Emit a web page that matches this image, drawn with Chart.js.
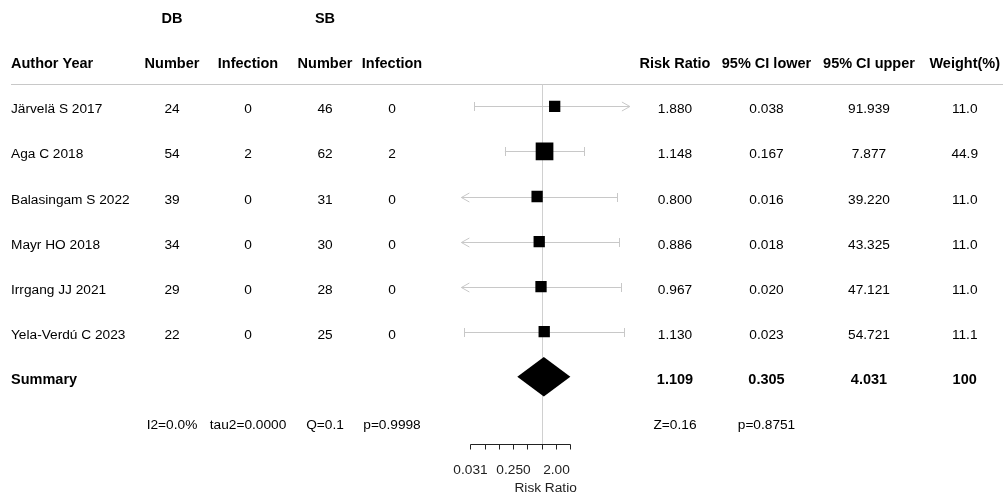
<!DOCTYPE html>
<html><head><meta charset="utf-8">
<script src="https://cdn.jsdelivr.net/npm/chart.js@4"></script>
<style>html,body{margin:0;padding:0;background:#fff}#wrap{width:1007px;height:501px;position:relative}</style>
</head><body><div id="wrap"><canvas id="c"></canvas></div>
<script>
// ---- data ----
const authors = ["Järvelä S 2017","Aga C 2018","Balasingam S 2022","Mayr HO 2018","Irrgang JJ 2021","Yela-Verdú C 2023"];
const dbNumber = [24,54,39,34,29,22];
const dbInfection = [0,2,0,0,0,0];
const sbNumber = [46,62,31,30,28,25];
const sbInfection = [0,2,0,0,0,0];
const riskRatio = [1.880,1.148,0.800,0.886,0.967,1.130];
const ciLower = [0.038,0.167,0.016,0.018,0.020,0.023];
const ciUpper = [91.939,7.877,39.220,43.325,47.121,54.721];
const weight = [11.0,44.9,11.0,11.0,11.0,11.1];
const summaryRR = 1.109, summaryLower = 0.305, summaryUpper = 4.031, summaryWeight = 100;
const heteroStats = ["I2=0.0%","tau2=0.0000","Q=0.1","p=0.9998"];
const overallStats = ["Z=0.16","p=0.8751"];
const axisTicks = [0.03125,0.0625,0.125,0.25,0.5,1,2,4];
const axisTickLabels = ["0.031","","","0.250","","","2.00",""];
const axisTitle = "Risk Ratio";

// ---- layout ----
const W = 1007, H = 501;
const ROW0_Y = 16.3, ROW_H = 45.05;
const ONE_X = 541.7, PX_PER_DOUBLING = 14.25;
const xMin = 0.0201, xMax = 73;
const padLeft = ONE_X + Math.log2(xMin)*PX_PER_DOUBLING;
const padRight = W - (ONE_X + Math.log2(xMax)*PX_PER_DOUBLING);
const yMin = -ROW0_Y/ROW_H, yMax = (H-ROW0_Y)/ROW_H;
const FONT = '"Liberation Sans", Arial, Helvetica, sans-serif';
const REG = '13.7px ' + FONT, BOLD = 'bold 14.5px ' + FONT;
const COL = {author:11, dbN:172, dbI:248, sbN:325, sbI:392, rr:675, lo:766.5, hi:869, w:964.7};

function sq(w){ return (5.03 + 1.89*Math.sqrt(w)) / Math.SQRT2; }

const forest = {
  id:'forest',
  beforeDatasetsDraw(chart){
    const ctx = chart.ctx, xs = chart.scales.x, ys = chart.scales.y, ca = chart.chartArea;
    ctx.save();
    ctx.lineWidth = 1;
    const ln = (a,b,c,d)=>{ctx.beginPath();ctx.moveTo(a,b);ctx.lineTo(c,d);ctx.stroke();};
    // header rule
    ctx.strokeStyle = '#c8c8c8';
    const yl = Math.round(ys.getPixelForValue(1.5))+0.5;
    ln(11, yl, 1003, yl);
    // reference line at 1
    ctx.strokeStyle = '#d0d0d0';
    const x1 = Math.round(xs.getPixelForValue(1))+0.5;
    ln(x1, yl, x1, ys.getPixelForValue(9.5));
    // CIs
    ctx.strokeStyle = '#c8c8c8';
    riskRatio.forEach((rr,i)=>{
      const y = Math.round(ys.getPixelForValue(2+i))+0.5;
      const loC = ciLower[i] < xMin, hiC = ciUpper[i] > xMax;
      const xl = loC ? ca.left : xs.getPixelForValue(ciLower[i]);
      const xr = hiC ? ca.right : xs.getPixelForValue(ciUpper[i]);
      ln(xl, y, xr, y);
      if (loC) { ctx.beginPath(); ctx.moveTo(xl+8, y-4.5); ctx.lineTo(xl, y); ctx.lineTo(xl+8, y+4.5); ctx.stroke(); }
      else ln(Math.round(xl)+0.5, y-4.5, Math.round(xl)+0.5, y+4.5);
      if (hiC) { ctx.beginPath(); ctx.moveTo(xr-8, y-4.5); ctx.lineTo(xr, y); ctx.lineTo(xr-8, y+4.5); ctx.stroke(); }
      else ln(Math.round(xr)+0.5, y-4.5, Math.round(xr)+0.5, y+4.5);
    });
    ctx.restore();
  },
  afterDatasetsDraw(chart){
    const ctx = chart.ctx, xs = chart.scales.x, ys = chart.scales.y, ca = chart.chartArea;
    ctx.save();
    // summary diamond
    const yS = ys.getPixelForValue(8), hh = 0.437*ROW_H;
    ctx.fillStyle = '#000';
    ctx.beginPath();
    ctx.moveTo(xs.getPixelForValue(summaryLower), yS);
    ctx.lineTo(xs.getPixelForValue(summaryRR), yS-hh);
    ctx.lineTo(xs.getPixelForValue(summaryUpper), yS);
    ctx.lineTo(xs.getPixelForValue(summaryRR), yS+hh);
    ctx.closePath(); ctx.fill();
    // axis
    const ya = Math.round(ys.getPixelForValue(9.5))+0.5;
    ctx.strokeStyle = '#222'; ctx.lineWidth = 1;
    const xa0 = Math.round(xs.getPixelForValue(axisTicks[0]))+0.5;
    const xa1 = Math.round(xs.getPixelForValue(axisTicks[axisTicks.length-1]))+0.5;
    ctx.beginPath(); ctx.moveTo(xa0, ya); ctx.lineTo(xa1, ya); ctx.stroke();
    ctx.fillStyle = '#222'; ctx.font = REG; ctx.textAlign = 'center'; ctx.textBaseline = 'alphabetic';
    axisTicks.forEach((t,i)=>{
      const x = Math.round(xs.getPixelForValue(t))+0.5;
      ctx.beginPath(); ctx.moveTo(x, ya); ctx.lineTo(x, ya+5); ctx.stroke();
      if (axisTickLabels[i]) ctx.fillText(axisTickLabels[i], x, ya+29.7);
    });
    ctx.fillText(axisTitle, (ca.left+ca.right)/2, ya+47.4);
    // table text
    ctx.fillStyle = '#000';
    const base = k => ys.getPixelForValue(k) + 7;
    const put = (t,x,k,font,align)=>{ctx.font=font;ctx.textAlign=align||'center';ctx.fillText(t,x,base(k));};
    put('DB', COL.dbN, 0, BOLD); put('SB', COL.sbN, 0, BOLD);
    put('Author Year', COL.author, 1, BOLD, 'left');
    put('Number', COL.dbN, 1, BOLD); put('Infection', COL.dbI, 1, BOLD);
    put('Number', COL.sbN, 1, BOLD); put('Infection', COL.sbI, 1, BOLD);
    put('Risk Ratio', COL.rr, 1, BOLD); put('95% CI lower', COL.lo, 1, BOLD);
    put('95% CI upper', COL.hi, 1, BOLD); put('Weight(%)', COL.w, 1, BOLD);
    authors.forEach((a,i)=>{
      const k = 2+i;
      put(a, COL.author, k, REG, 'left');
      put(String(dbNumber[i]), COL.dbN, k, REG);
      put(String(dbInfection[i]), COL.dbI, k, REG);
      put(String(sbNumber[i]), COL.sbN, k, REG);
      put(String(sbInfection[i]), COL.sbI, k, REG);
      put(riskRatio[i].toFixed(3), COL.rr, k, REG);
      put(ciLower[i].toFixed(3), COL.lo, k, REG);
      put(ciUpper[i].toFixed(3), COL.hi, k, REG);
      put(weight[i].toFixed(1), COL.w, k, REG);
    });
    put('Summary', COL.author, 8, BOLD, 'left');
    put(summaryRR.toFixed(3), COL.rr, 8, BOLD);
    put(summaryLower.toFixed(3), COL.lo, 8, BOLD);
    put(summaryUpper.toFixed(3), COL.hi, 8, BOLD);
    put(String(summaryWeight), COL.w, 8, BOLD);
    [COL.dbN, COL.dbI, COL.sbN, COL.sbI].forEach((x,i)=>put(heteroStats[i], x, 9, REG));
    [COL.rr, COL.lo].forEach((x,i)=>put(overallStats[i], x, 9, REG));
    ctx.restore();
  }
};

new Chart(document.getElementById('c'), {
  type:'scatter',
  data:{datasets:[{
    data: riskRatio.map((r,i)=>({x:r, y:2+i})),
    pointStyle:'rect',
    pointRadius: weight.map(sq),
    pointHoverRadius: weight.map(sq),
    backgroundColor:'#000', borderColor:'#000', borderWidth:0
  }]},
  options:{
    responsive:true, maintainAspectRatio:false, animation:false,
    layout:{autoPadding:false, padding:{left:padLeft, right:padRight, top:0, bottom:0}},
    plugins:{legend:{display:false}, tooltip:{enabled:false}},
    scales:{
      x:{type:'logarithmic', min:xMin, max:xMax, display:false},
      y:{type:'linear', reverse:true, min:yMin, max:yMax, display:false}
    },
    events:[]
  },
  plugins:[forest]
});
</script></body></html>
